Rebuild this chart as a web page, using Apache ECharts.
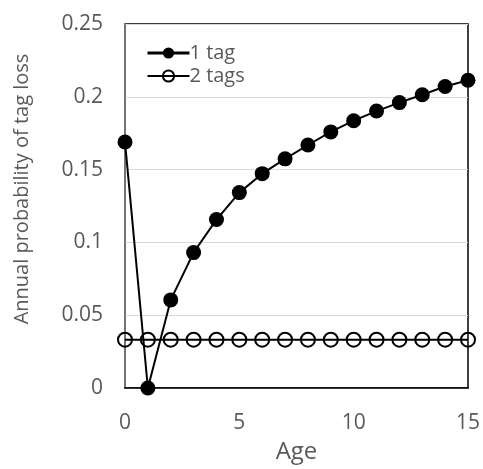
<!DOCTYPE html>
<html>
<head>
<meta charset="utf-8">
<script src="https://cdn.jsdelivr.net/npm/echarts@6/dist/echarts.min.js"></script>
<style>
  html, body { margin: 0; padding: 0; background: #fff; }
  #chart { width: 483px; height: 469px; }
</style>
</head>
<body>
<div id="chart"></div>
<script>
// Age (years) on the x axis
var ages = [0, 1, 2, 3, 4, 5, 6, 7, 8, 9, 10, 11, 12, 13, 14, 15];
// Annual probability of tag loss, single-tagged fish
var oneTag = [0.169, 0.0, 0.0605, 0.093, 0.1157, 0.1342, 0.1472, 0.1574, 0.1669, 0.1759, 0.1836, 0.1902, 0.196, 0.2014, 0.2071, 0.2114];
// Annual probability of tag loss, double-tagged fish
var twoTags = [0.0332, 0.0332, 0.0332, 0.0332, 0.0332, 0.0332, 0.0332, 0.0332, 0.0332, 0.0332, 0.0332, 0.0332, 0.0332, 0.0332, 0.0332, 0.0332];
var seriesNames = ['1 tag', '2 tags'];
var xLabel = 'Age';
var yLabel = 'Annual probability of tag loss';

function pairs(xs, ys) {
  return xs.map(function (x, i) { return [x, ys[i]]; });
}

var font = '"Open Sans", "Liberation Sans", sans-serif';
var gray = '#595959';

var chart = echarts.init(document.getElementById('chart'), null, { renderer: 'canvas' });
chart.setOption({
  animation: false,
  backgroundColor: '#fff',
  grid: {
    left: 125, right: 14, top: 24, bottom: 76,
    show: true, borderColor: '#000', borderWidth: 1.5, backgroundColor: 'transparent'
  },
  legend: {
    orient: 'vertical',
    left: 141, top: 38,
    itemWidth: 42, itemHeight: 14, itemGap: 3,
    textStyle: { fontFamily: font, fontSize: 20, color: gray, padding: [0, 0, 0, -5] },
    data: [
      { name: seriesNames[0], lineStyle: { width: 3 } },
      { name: seriesNames[1], lineStyle: { width: 2 } }
    ]
  },
  // vertical axis title, sitting slightly above the plot's middle
  graphic: [{
    type: 'text',
    x: 22, y: 189, rotation: Math.PI / 2,
    style: {
      text: yLabel, fontFamily: font, fontSize: 20, fill: gray,
      align: 'center', verticalAlign: 'middle'
    }
  }],
  xAxis: {
    type: 'value', min: 0, max: 15, interval: 5,
    name: xLabel, nameLocation: 'middle', nameGap: 52,
    nameTextStyle: { fontFamily: font, fontSize: 24, color: gray },
    axisLine: { show: true, lineStyle: { color: '#000', width: 1.5 } },
    axisTick: { show: false },
    splitLine: { show: false },
    axisLabel: { fontFamily: font, fontSize: 21, color: gray, margin: 25 }
  },
  yAxis: {
    type: 'value', min: 0, max: 0.25, interval: 0.05,
    axisLine: { show: true, lineStyle: { color: '#868686', width: 1.5 } },
    axisTick: { show: false },
    splitLine: { show: true, lineStyle: { color: '#d9d9d9', width: 1 } },
    axisLabel: {
      fontFamily: font, fontSize: 21, color: gray, margin: 22,
      formatter: function (v) { return String(Math.round(v * 100) / 100); }
    }
  },
  series: [
    {
      name: seriesNames[0], type: 'line', clip: false,
      data: pairs(ages, oneTag),
      symbol: 'circle', symbolSize: 15,
      lineStyle: { color: '#000', width: 2 },
      itemStyle: { color: '#000', borderColor: '#000', borderWidth: 0 },
      z: 2
    },
    {
      name: seriesNames[1], type: 'line', clip: false,
      data: pairs(ages, twoTags),
      symbol: 'circle', symbolSize: 14,
      lineStyle: { color: '#000', width: 2 },
      itemStyle: { color: 'rgba(255,255,255,0)', borderColor: '#000', borderWidth: 2 },
      z: 3
    }
  ]
});
</script>
</body>
</html>
